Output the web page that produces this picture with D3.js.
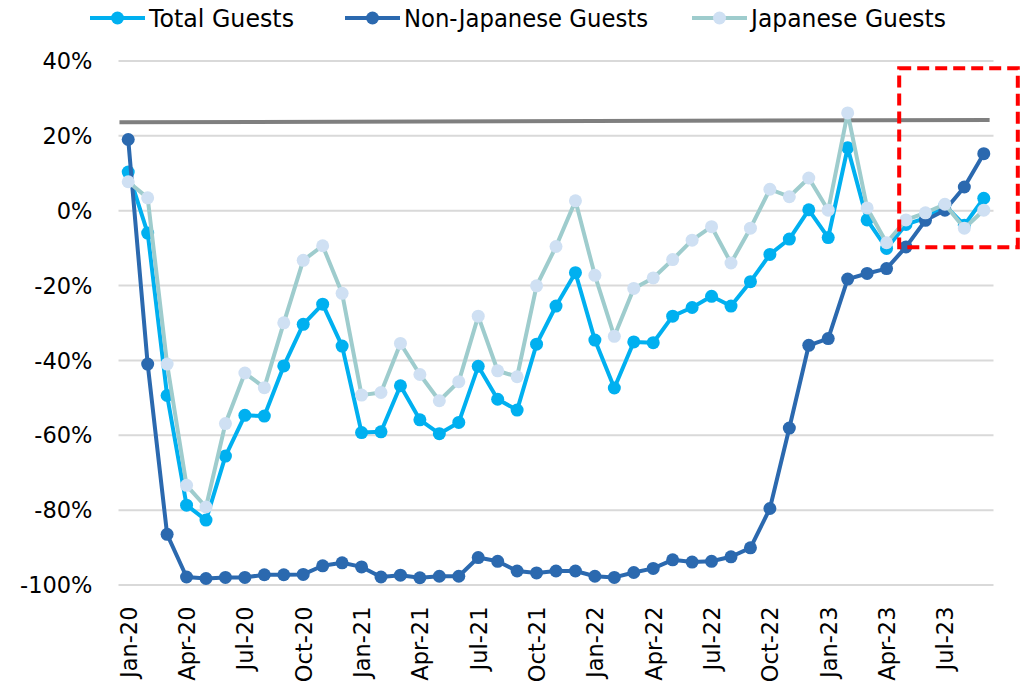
<!DOCTYPE html>
<html>
<head>
<meta charset="utf-8">
<script src="https://cdn.jsdelivr.net/npm/d3@7"></script>
<style>
  html, body { margin: 0; padding: 0; background: #fff; }
  svg { display: block; }
</style>
</head>
<body>
<svg id="chart" width="1024" height="686"></svg>
<script>
// ---- data ----
const months = [
  "Jan-20","Feb-20","Mar-20","Apr-20","May-20","Jun-20","Jul-20","Aug-20","Sep-20","Oct-20","Nov-20","Dec-20",
  "Jan-21","Feb-21","Mar-21","Apr-21","May-21","Jun-21","Jul-21","Aug-21","Sep-21","Oct-21","Nov-21","Dec-21",
  "Jan-22","Feb-22","Mar-22","Apr-22","May-22","Jun-22","Jul-22","Aug-22","Sep-22","Oct-22","Nov-22","Dec-22",
  "Jan-23","Feb-23","Mar-23","Apr-23","May-23","Jun-23","Jul-23","Aug-23","Sep-23"
];
const tickLabels = ["Jan-20","Apr-20","Jul-20","Oct-20","Jan-21","Apr-21","Jul-21","Oct-21","Jan-22","Apr-22","Jul-22","Oct-22","Jan-23","Apr-23","Jul-23"];
const yTicks = [40, 20, 0, -20, -40, -60, -80, -100];

const totalGuests = [
  10.2, -6.1, -49.5, -78.8, -82.8, -65.7, -54.8, -55.0, -41.6, -30.5, -25.1, -36.3,
  -59.4, -59.2, -46.9, -56.0, -59.7, -56.7, -41.7, -50.5, -53.4, -35.8, -25.6, -16.7,
  -34.7, -47.5, -35.2, -35.4, -28.3, -26.0, -23.0, -25.6, -19.1, -11.8, -7.7, 0.1,
  -7.3, 16.7, -2.6, -10.2, -3.8, -2.1, 1.3, -4.0, 3.2
];
const nonJapaneseGuests = [
  18.9, -41.1, -86.6, -98.0, -98.4, -98.1, -98.1, -97.4, -97.4, -97.3, -95.0, -94.2,
  -95.3, -98.0, -97.5, -98.2, -97.8, -97.8, -92.8, -93.8, -96.4, -96.9, -96.4, -96.4,
  -97.8, -98.1, -96.8, -95.7, -93.4, -94.0, -93.8, -92.6, -90.2, -79.7, -58.2, -36.1,
  -34.3, -18.4, -16.9, -15.6, -9.8, -2.7, 0.0, 6.2, 15.1
];
const japaneseGuests = [
  7.6, 3.3, -41.1, -73.5, -79.3, -57.0, -43.5, -47.4, -30.1, -13.4, -9.5, -22.2,
  -49.4, -48.7, -35.6, -43.9, -50.9, -45.8, -28.3, -42.9, -44.5, -20.2, -9.7, 2.5,
  -17.4, -33.7, -20.9, -18.1, -13.2, -8.0, -4.4, -14.1, -4.8, 5.6, 3.6, 8.6,
  0.0, 26.0, 0.6, -8.7, -2.6, -0.7, 1.6, -4.8, 0.0
];
// annotation: grey reference line (index range, values) and red highlight box (index/value bounds)
const refLine = [{ i: -0.45, v: 23.5 }, { i: 44.3, v: 24.1 }];
const highlightBox = { i0: 39.65, i1: 45.75, v0: -9.9, v1: 37.9 };

const series = [
  { name: "Total Guests", values: totalGuests, line: "#00B0F0", marker: "#00B0F0" },
  { name: "Non-Japanese Guests", values: nonJapaneseGuests, line: "#2B69AF", marker: "#2B69AF" },
  { name: "Japanese Guests", values: japaneseGuests, line: "#9ECCCD", marker: "#CFE0F3" }
];

// ---- layout ----
const svg = d3.select("#chart");
const plotLeft = 118.5, plotRight = 993.5;
const x = d3.scaleLinear().domain([-0.5, months.length - 0.5]).range([plotLeft, plotRight]);
const y = d3.scaleLinear().domain([-100, 40]).range([584.5, 60.5]);

// gridlines
const yAxis = d3.axisLeft(y).tickValues(yTicks).tickSize(-(plotRight - plotLeft)).tickFormat(d => d + "%").tickPadding(26);
const gy = svg.append("g").attr("transform", `translate(${plotLeft},0)`).call(yAxis);
gy.select(".domain").remove();
gy.selectAll(".tick line").attr("stroke", "#D9D9D9").attr("stroke-width", 2);
gy.selectAll(".tick text")
  .attr("font-family", "DejaVu Sans, Verdana, sans-serif")
  .attr("font-size", 22.5).attr("fill", "#000").attr("dy", "0.36em");

// x axis labels
const xAxis = d3.axisBottom(x)
  .tickValues(tickLabels.map(t => months.indexOf(t)))
  .tickFormat(i => months[i]).tickSize(0);
const gx = svg.append("g").attr("transform", `translate(0,${y(-100)})`).call(xAxis);
gx.select(".domain").remove();
gx.selectAll(".tick text")
  .attr("font-family", "DejaVu Sans, Verdana, sans-serif")
  .attr("font-size", 22.5).attr("fill", "#000")
  .attr("text-anchor", "end")
  .attr("transform", "rotate(-90)")
  .attr("x", -22).attr("y", 0).attr("dy", "0.36em");

// grey reference line
svg.append("line")
  .attr("x1", x(refLine[0].i)).attr("y1", y(refLine[0].v))
  .attr("x2", x(refLine[1].i)).attr("y2", y(refLine[1].v))
  .attr("stroke", "#7F7F7F").attr("stroke-width", 4);

// series
const lineGen = d3.line().x((d, i) => x(i)).y(d => y(d));
series.forEach(s => {
  const g = svg.append("g");
  g.append("path").datum(s.values).attr("d", lineGen)
    .attr("fill", "none").attr("stroke", s.line).attr("stroke-width", 4).attr("stroke-linejoin", "round");
  g.selectAll("circle").data(s.values).join("circle")
    .attr("cx", (d, i) => x(i)).attr("cy", d => y(d)).attr("r", 6.5)
    .attr("fill", s.marker);
});

// red dashed highlight box
svg.append("rect")
  .attr("x", x(highlightBox.i0)).attr("y", y(highlightBox.v1))
  .attr("width", x(highlightBox.i1) - x(highlightBox.i0))
  .attr("height", y(highlightBox.v0) - y(highlightBox.v1))
  .attr("fill", "none").attr("stroke", "#FF0000").attr("stroke-width", 4)
  .attr("stroke-dasharray", "12,6");

// legend
const legendItems = [
  { s: series[0], x0: 90, textW: 145 },
  { s: series[1], x0: 345, textW: 244 },
  { s: series[2], x0: 692, textW: 195 }
];
const ly = 18;
legendItems.forEach(it => {
  const g = svg.append("g");
  g.append("line").attr("x1", it.x0).attr("x2", it.x0 + 55).attr("y1", ly).attr("y2", ly)
    .attr("stroke", it.s.line).attr("stroke-width", 4);
  g.append("circle").attr("cx", it.x0 + 27.5).attr("cy", ly).attr("r", 6.5).attr("fill", it.s.marker);
  g.append("text").attr("x", it.x0 + 59).attr("y", ly).attr("dy", "0.36em")
    .attr("font-family", "DejaVu Sans, sans-serif").attr("font-size", 24)
    .attr("textLength", it.textW).attr("lengthAdjust", "spacingAndGlyphs")
    .attr("fill", "#000").text(it.s.name);
});
</script>
</body>
</html>
